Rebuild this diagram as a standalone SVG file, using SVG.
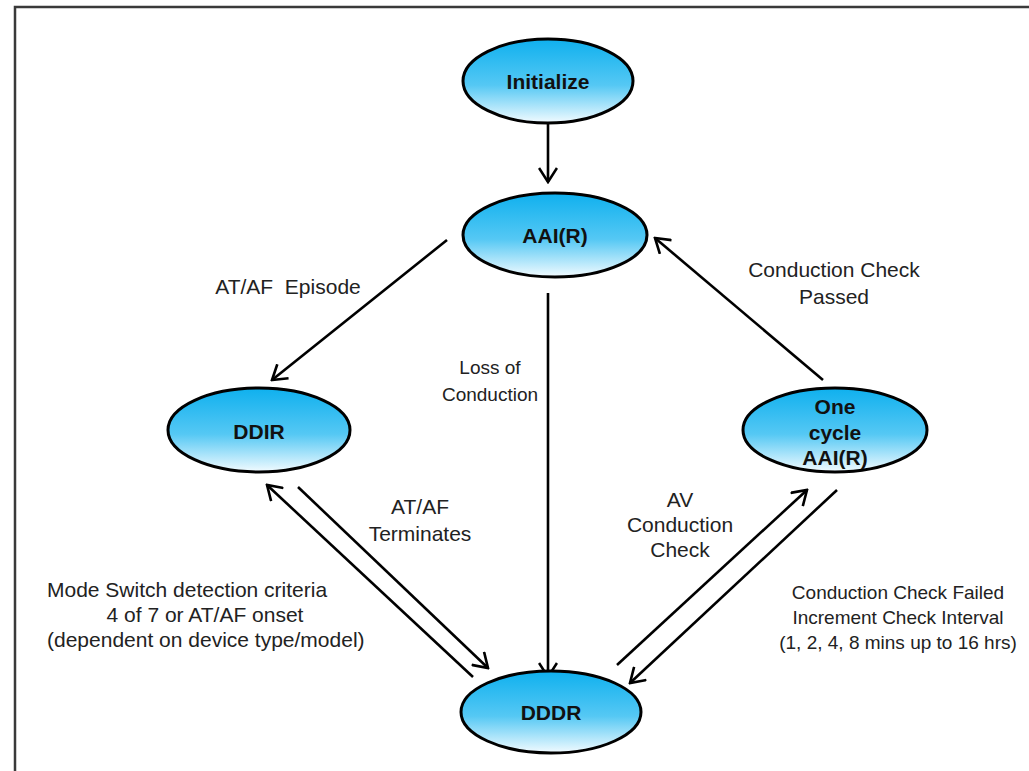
<svg xmlns="http://www.w3.org/2000/svg" width="1029" height="771" viewBox="0 0 1029 771">
  <defs>
    <linearGradient id="g" x1="0" y1="0" x2="0" y2="1">
      <stop offset="0" stop-color="#0fb0ee"/>
      <stop offset="0.55" stop-color="#55c8f4"/>
      <stop offset="1" stop-color="#f2fbff"/>
    </linearGradient>
    <marker id="ah" viewBox="0 0 17 20" refX="15" refY="10" markerWidth="17" markerHeight="20" markerUnits="userSpaceOnUse" orient="auto">
      <path d="M1,1 L15,10 L1,19" fill="none" stroke="#000" stroke-width="2.6"/>
    </marker>
    <style>
      .node ellipse { fill: url(#g); stroke: #000; stroke-width: 3; }
      .node text { font-family: "Liberation Sans", Arial, sans-serif; font-weight: bold; font-size: 21px; fill: #111; text-anchor: middle; }
      .conn line { stroke: #000; stroke-width: 2.6; marker-end: url(#ah); }
      .lbl { font-family: "Liberation Sans", Arial, sans-serif; font-size: 21px; fill: #222; text-anchor: middle; }
      .sm { font-size: 19px; }
    </style>
  </defs>
  <rect width="1029" height="771" fill="#fff"/>
  <rect x="15" y="7" width="1100" height="900" fill="none" stroke="#3a3a3a" stroke-width="2.5"/>

  <g id="connectors" class="conn">
    <line x1="548" y1="123" x2="548" y2="182"/>
    <line x1="447" y1="240" x2="272" y2="380"/>
    <line x1="823" y1="380" x2="655" y2="238"/>
    <line x1="548" y1="293" x2="548" y2="677"/>
    <line x1="473" y1="677" x2="267" y2="485"/>
    <line x1="298" y1="487" x2="488" y2="668"/>
    <line x1="617" y1="665" x2="807" y2="490"/>
    <line x1="837" y1="490" x2="630" y2="683"/>
  </g>

  <g id="labels">
    <text class="lbl" x="288" y="294" xml:space="preserve">AT/AF  Episode</text>
    <text class="lbl sm" x="490" y="374">Loss of</text>
    <text class="lbl sm" x="490" y="401">Conduction</text>
    <text class="lbl" x="834" y="277">Conduction Check</text>
    <text class="lbl" x="834" y="304">Passed</text>
    <text class="lbl" x="420" y="514">AT/AF</text>
    <text class="lbl" x="420" y="541">Terminates</text>
    <text class="lbl" x="680" y="507">AV</text>
    <text class="lbl" x="680" y="532">Conduction</text>
    <text class="lbl" x="680" y="557">Check</text>
    <text class="lbl" x="47" y="597" style="text-anchor:start">Mode Switch detection criteria</text>
    <text class="lbl" x="205" y="622">4 of 7 or AT/AF onset</text>
    <text class="lbl" x="47" y="647" style="text-anchor:start">(dependent on device type/model)</text>
    <text class="lbl sm" x="898" y="599">Conduction Check Failed</text>
    <text class="lbl sm" x="898" y="624">Increment Check Interval</text>
    <text class="lbl sm" x="898" y="649">(1, 2, 4, 8 mins up to 16 hrs)</text>
  </g>

  <g id="node-initialize" class="node">
    <ellipse cx="548" cy="81" rx="85" ry="42"/>
    <text x="548" y="89">Initialize</text>
  </g>
  <g id="node-aair" class="node">
    <ellipse cx="555" cy="235" rx="92" ry="42"/>
    <text x="555" y="243">AAI(R)</text>
  </g>
  <g id="node-ddir" class="node">
    <ellipse cx="259" cy="430" rx="91" ry="42"/>
    <text x="259" y="439">DDIR</text>
  </g>
  <g id="node-onecycle" class="node">
    <ellipse cx="835" cy="430" rx="92" ry="42"/>
    <text x="835" y="414">One</text>
    <text x="835" y="440">cycle</text>
    <text x="835" y="465">AAI(R)</text>
  </g>
  <g id="node-dddr" class="node">
    <ellipse cx="551" cy="712" rx="90" ry="41"/>
    <text x="551" y="720">DDDR</text>
  </g>
</svg>
